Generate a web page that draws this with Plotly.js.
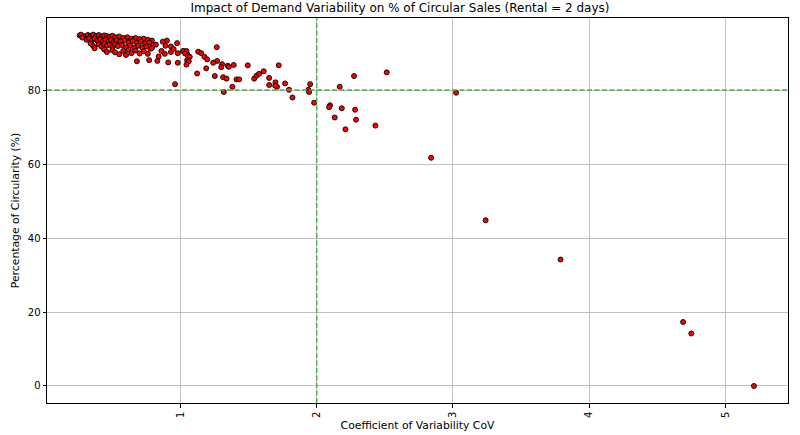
<!DOCTYPE html>
<html>
<head>
<meta charset="utf-8">
<script src="https://cdn.plot.ly/plotly-3.0.1.min.js"></script>
<style>html,body{margin:0;padding:0;background:#fff;}#chart{width:800px;height:435px;}</style>
</head>
<body>
<div id="chart"></div>
<script>
// Coefficient of variability (x) and % circularity (y)
const covValues = [
  0.26,0.27,0.30,0.32,0.34,0.36,0.38,0.40,0.42,0.44,0.46,0.48,0.50,0.52,0.55,0.58,0.61,0.64,0.67,0.70,0.73,0.76,0.79,
  0.28,0.31,0.33,0.35,0.37,0.39,0.41,0.43,0.45,0.47,0.49,0.51,0.53,0.56,0.59,0.62,0.65,0.68,0.71,0.74,0.77,0.80,
  0.34,0.36,0.40,0.42,0.44,0.46,0.48,0.50,0.52,0.54,0.57,0.60,0.63,0.66,0.69,0.72,0.75,0.78,
  0.37,0.44,0.46,0.50,0.52,0.55,0.58,0.60,0.62,0.64,0.67,0.70,0.73,0.76,
  0.68,0.77,0.83,0.91,0.98,0.84,0.885,0.93,0.975,0.90,0.87,0.82,0.79,0.93,0.95,1.02,1.05,0.96,0.86,0.89,0.98,
  1.02,1.044,1.034,1.054,1.068,1.049,1.061,1.044,
  1.266,1.130,1.152,1.176,1.196,1.269,1.240,1.306,1.299,1.347,1.355,1.391,1.494,1.721,1.189,1.122,1.252,1.313,1.338,
  1.411,1.431,1.541,1.558,1.577,1.611,1.651,1.697,1.651,1.709,1.695,1.768,1.381,1.318,1.797,1.822,
  1.952,1.939,1.944,1.981,2.169,2.274,2.514,2.098,2.091,2.184,2.282,2.132,2.289,2.211,2.431,3.023,
  2.84,3.24,3.79,4.69,4.75,5.21
];
const circularityValues = [
  94.8,95.0,94.6,94.9,94.7,95.0,94.6,94.9,94.5,94.8,94.6,94.4,94.7,94.3,94.5,94.1,94.3,93.9,94.1,93.8,93.9,93.6,93.4,
  94.2,93.6,94.0,93.4,93.9,93.3,93.8,93.2,93.7,93.1,93.6,93.0,93.5,93.1,93.4,92.9,93.3,92.8,93.1,92.6,92.9,92.3,
  92.6,91.9,92.4,91.8,92.5,92.0,92.3,91.6,92.4,91.9,92.2,91.6,92.1,91.5,92.0,91.4,91.8,91.2,
  91.3,91.0,90.3,90.8,90.2,89.7,90.6,89.5,90.9,90.0,90.7,89.9,90.5,89.8,
  87.8,88.1,87.9,87.5,87.4,89.1,89.8,90.3,92.7,93.4,93.1,92.3,91.4,91.8,91.1,90.5,89.7,81.6,90.6,92.0,90.0,
  90.6,90.6,89.9,89.3,89.0,88.1,87.8,86.9,
  91.6,90.4,90.0,89.0,88.3,87.9,87.4,87.0,86.2,86.6,86.3,86.8,86.7,86.7,85.9,84.5,83.8,83.5,83.1,
  82.9,82.9,83.1,83.9,84.4,85.1,83.3,82.1,81.4,80.9,81.2,81.8,80.9,79.5,80.1,78.0,
  81.6,80.1,79.5,76.6,80.9,83.8,84.8,75.9,75.4,75.1,74.7,72.6,72.0,69.4,70.4,79.3,
  61.7,44.8,34.2,17.3,14.2,0.0
];
const xTickValues = [1, 2, 3, 4, 5];
const yTickValues = [0, 20, 40, 60, 80];
const thresholdCoV = [2];
const thresholdCircularity = [80];

const font = 'DejaVu Sans, sans-serif';
const refColor = '#4daf4a';

const trace = {
  x: covValues,
  y: circularityValues,
  type: 'scatter',
  mode: 'markers',
  marker: {color: '#ff0000', size: 5, line: {color: '#000000', width: 0.9}},
  hoverinfo: 'x+y'
};

const shapes = [];
thresholdCircularity.forEach(v => shapes.push({
  type: 'line', xref: 'paper', yref: 'y', x0: 0, x1: 1, y0: v, y1: v,
  line: {color: refColor, width: 1.5, dash: '5px,2.5px'}
}));
thresholdCoV.forEach(v => shapes.push({
  type: 'line', xref: 'x', yref: 'paper', x0: v, x1: v, y0: 0, y1: 1,
  line: {color: refColor, width: 1.5, dash: '5px,2.5px'}
}));

const layout = {
  width: 800, height: 435,
  margin: {l: 47, r: 12, t: 18, b: 32},
  paper_bgcolor: '#ffffff', plot_bgcolor: '#ffffff',
  font: {family: font, size: 10, color: '#000'},
  title: {text: 'Impact of Demand Variability on % of Circular Sales (Rental = 2 days)',
          font: {family: font, size: 12, color: '#000'}, x: 0.5, xanchor: 'center', y: 0.992, yanchor: 'top'},
  showlegend: false,
  xaxis: {
    range: [0.02, 5.46], tickvals: xTickValues, ticktext: xTickValues.map(String),
    tickangle: -90, ticks: 'outside', ticklen: 3.5, tickcolor: '#000',
    showgrid: true, gridcolor: '#b0b0b0', gridwidth: 0.8,
    showline: true, linecolor: '#000', linewidth: 1, mirror: true, zeroline: false,
    title: {text: 'Coefficient of Variability CoV', font: {family: font, size: 10.8}, standoff: 4}
  },
  yaxis: {
    range: [-4.6, 99.5], tickvals: yTickValues, ticktext: yTickValues.map(String),
    ticks: 'outside', ticklen: 3.5, tickcolor: '#000',
    showgrid: true, gridcolor: '#b0b0b0', gridwidth: 0.8,
    showline: true, linecolor: '#000', linewidth: 1, mirror: true, zeroline: false,
    title: {text: 'Percentage of Circularity (%)', font: {family: font, size: 10.8}, standoff: 5}
  },
  shapes: shapes
};

Plotly.newPlot('chart', [trace], layout, {displayModeBar: false, staticPlot: true});
</script>
</body>
</html>
